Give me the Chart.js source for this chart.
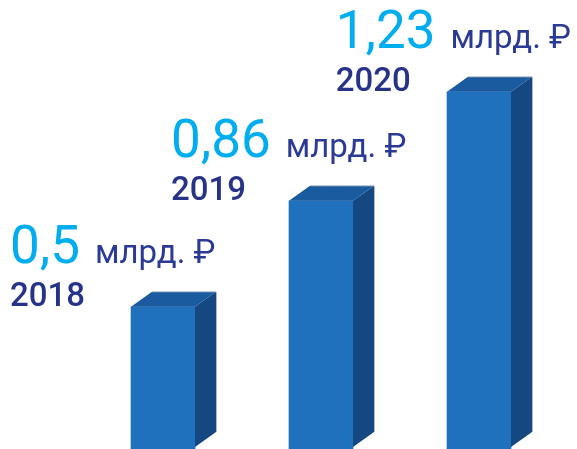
<!DOCTYPE html>
<html>
<head>
<meta charset="utf-8">
<script src="https://cdn.jsdelivr.net/npm/chart.js@4/dist/chart.umd.min.js"></script>
<style>
  html, body { margin: 0; padding: 0; background: #fff; overflow: hidden; }
  canvas { display: block; }
</style>
</head>
<body>
<canvas id="chart" width="577" height="449"></canvas>
<script>
const years = ['2018', '2019', '2020'];
const amounts = [0.5, 0.86, 1.23];
const unit = 'млрд. ₽';

// 3d box + labels above every bar
const boxAndLabels = {
  id: 'boxAndLabels',
  afterDatasetsDraw(chart, args, opts) {
    const ctx = chart.ctx;
    const meta = chart.getDatasetMeta(0);
    const bottom = chart.chartArea.bottom;
    const dx = opts.depthX, dy = opts.depthY;

    meta.data.forEach((bar, i) => {
      const x0 = bar.x - bar.width / 2;
      const x1 = bar.x + bar.width / 2;
      const top = bar.y;

      ctx.save();
      // right side
      ctx.fillStyle = '#154880';
      ctx.beginPath();
      ctx.moveTo(x1, top);
      ctx.lineTo(x1 + dx, top - dy);
      ctx.lineTo(x1 + dx, bottom - 2 - dy);
      ctx.lineTo(x1, bottom - 2);
      ctx.lineTo(x1, bottom);
      ctx.closePath();
      ctx.fill();

      // top
      ctx.fillStyle = '#1a5a9f';
      ctx.beginPath();
      ctx.moveTo(x0, top);
      ctx.lineTo(x0 + dx, top - dy);
      ctx.lineTo(x1 + dx, top - dy);
      ctx.lineTo(x1, top);
      ctx.closePath();
      ctx.fill();
      ctx.strokeStyle = 'rgba(120,140,160,0.6)';
      ctx.lineWidth = 1;
      ctx.beginPath();
      ctx.moveTo(x0 + dx, top - dy + 0.5);
      ctx.lineTo(x1 + dx + 0.5, top - dy + 0.5);
      ctx.lineTo(x1 + dx + 0.5, bottom - 2 - dy);
      ctx.stroke();

      // labels
      const num = amounts[i].toString().replace('.', ',');
      ctx.textBaseline = 'alphabetic';
      ctx.textAlign = 'left';
      ctx.font = '400 53px Roboto';
      const w = ctx.measureText(num).width;
      ctx.font = '400 33px Roboto';
      const uw = ctx.measureText(unit).width;
      let tx = x0 + opts.shift[i];
      const over = tx + w + opts.gap + uw - (chart.width - 6);
      if (over > 0) tx -= over;

      ctx.font = '400 53px Roboto';
      ctx.fillStyle = '#00adee';
      ctx.fillText(num, tx, top - 44);

      ctx.font = '400 33px Roboto';
      ctx.fillStyle = '#2b3a94';
      ctx.fillText(unit, tx + w + opts.gap, top - 44);

      ctx.font = '500 33px Roboto';
      ctx.fillStyle = '#263387';
      ctx.fillText(years[i], tx, top - 1);
      ctx.restore();
    });
  }
};

const canvas = document.getElementById('chart');
const g = canvas.getContext('2d');

new Chart(canvas, {
  type: 'bar',
  data: {
    labels: years,
    datasets: [{
      data: amounts,
      barThickness: 64,
      borderWidth: 0,
      backgroundColor: (c) => {
        const el = c.element;
        if (!el || !el.width) return '#1f71be';
        const x0 = el.x - el.width / 2;
        const grad = g.createLinearGradient(x0, 0, x0 + el.width, 0);
        grad.addColorStop(0, '#1b68b4');
        grad.addColorStop(0.45, '#2073c0');
        grad.addColorStop(1, '#1b69b5');
        return grad;
      }
    }]
  },
  options: {
    responsive: false,
    animation: false,
    layout: { padding: { left: 84, right: 19, top: 0, bottom: 0 } },
    plugins: {
      legend: { display: false },
      tooltip: { enabled: false },
      boxAndLabels: { depthX: 21, depthY: 15, gap: 15, shift: [-121, -118, -96] }
    },
    scales: {
      x: { display: false, grid: { display: false } },
      y: { display: false, min: 0.017, max: 1.542, grid: { display: false } }
    }
  },
  plugins: [boxAndLabels]
});
</script>
</body>
</html>
